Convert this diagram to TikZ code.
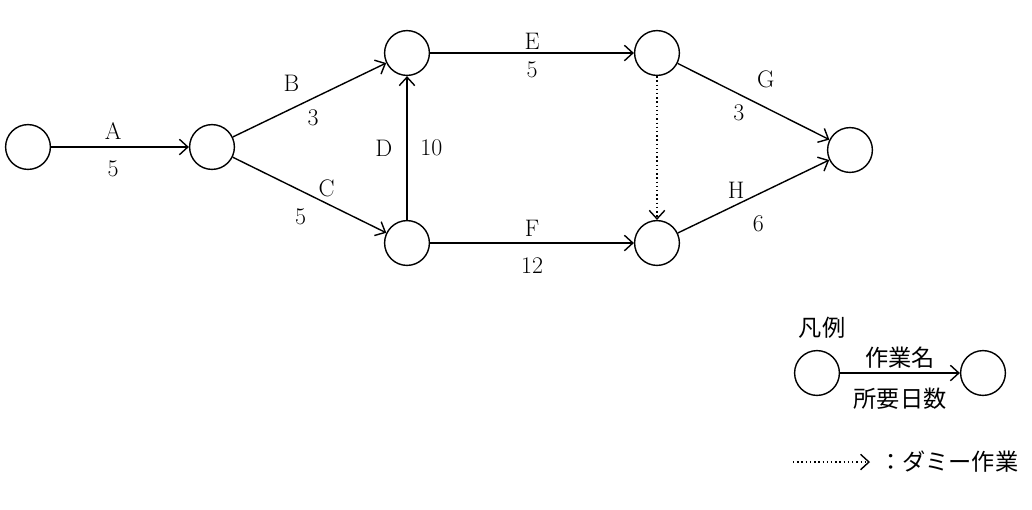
\documentclass[tikz,border=0pt]{standalone}
\usepackage{fontspec}
\newfontfamily\cjk{Noto Sans CJK JP}
\usetikzlibrary{arrows.meta,positioning}

\begin{document}
\begin{tikzpicture}[x=0.025cm,y=-0.025cm,
  event/.style={circle,draw,line width=1pt,minimum size=1.12cm,inner sep=0pt},
  act/.style={line width=1pt,-{Straight Barb[length=6pt,width=11pt,line width=1pt]}},
  dummy/.style={act,dotted},
  lbl/.style={font=\fontsize{17}{19}\selectfont,inner sep=2pt},
  jlbl/.style={font=\cjk\fontsize{16.5}{18}\selectfont,inner sep=2pt}]
\useasboundingbox (0,0) rectangle (1032,509);

% events
\node (n1)[event] at (28,147) {};
\node (n2)[event] at (212,147) {};
\node (n3)[event] at (407,53) {};
\node (n4)[event] at (407,243) {};
\node (n5)[event] at (657,53) {};
\node (n6)[event] at (657,243) {};
\node (n7)[event] at (850,150) {};

% activities
\draw [act] (n1) -- node(la)[lbl,above=3pt,pos=0.45]{A} node(da)[lbl,below=7pt,pos=0.45]{5} (n2);
\draw [act] (n2) -- node(lb)[lbl,above left=0pt,pos=0.42,xshift=4pt,yshift=8pt]{B} node(db)[lbl,below right=-2pt,pos=0.45,xshift=3pt,yshift=-3pt]{3} (n3);
\draw [act] (n2) -- node(lc)[lbl,above right=-2pt,pos=0.55]{C} node(dc)[lbl,below left=0pt,pos=0.5,yshift=-7pt]{5} (n4);
\draw [act] (n4) -- node(ld)[lbl,left=8pt]{D} node(dd)[lbl,right=7pt]{10} (n3);
\draw [act] (n3) -- node(le)[lbl,above=0pt]{E} node(de)[lbl,below=4pt]{5} (n5);
\draw [act] (n4) -- node(lf)[lbl,above=2pt]{F} node(df)[lbl,below=8pt]{12} (n6);
\draw [dummy] (n5) -- (n6);
\draw [act] (n5) -- node(lg)[lbl,above right=0pt,pos=0.5,yshift=7pt]{G} node(dg)[lbl,below left=-2pt,pos=0.45,yshift=-4pt]{3} (n7);
\draw [act] (n6) -- node(lh)[lbl,above left=-2pt,pos=0.45]{H} node(dh)[lbl,below right=0pt,pos=0.5,xshift=-3pt,yshift=-11pt]{6} (n7);

% legend
\node (hd)[jlbl] at (822,328) {凡例};
\node (l1)[event] at (817,373) {};
\node (l2)[event] at (983,373) {};
\draw [act] (l1) -- node(lx)[jlbl,above=1pt]{作業名} node(dx)[jlbl,below=8pt]{所要日数} (l2);
\coordinate (ds) at (793,462);
\coordinate (dt) at (870,462);
\draw [dummy] (ds) -- (dt);
\node (dm)[jlbl,anchor=west] at (876,462) {：ダミー作業};
\end{tikzpicture}
\end{document}
